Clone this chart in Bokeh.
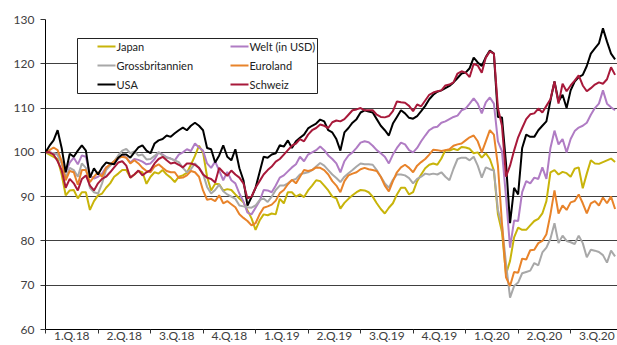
from bokeh.plotting import figure
from bokeh.models import Range1d, FixedTicker, ColumnDataSource
from bokeh.core.properties import value
from bokeh.embed import file_html
from bokeh.resources import INLINE

quarter_labels = ["1.Q.18", "2.Q.18", "3.Q.18", "4.Q.18", "1.Q.19", "2.Q.19",
                  "3.Q.19", "4.Q.19", "1.Q.20", "2.Q.20", "3.Q.20"]
y_ticks = [60, 70, 80, 90, 100, 110, 120, 130]

usa = [100, 101.5, 102.7, 105, 101, 95.5, 99.7, 99, 100.4, 101.6,
       100.4, 94.3, 96.4, 95, 96.6, 97.7, 97.5, 97.3, 98.8, 99.5,
       99.5, 98.8, 100, 101.1, 101.6, 100.4, 99.8, 102, 102.7, 103,
       103.8, 103.5, 104.3, 105, 105.6, 105, 106, 106.7, 106, 105,
       101, 100.7, 97.7, 99.3, 101.6, 99, 98.2, 100.7, 96.4, 93.7,
       88, 89.9, 92, 95.5, 99, 98.8, 99.5, 99.8, 101.6, 101.3,
       102.7, 101, 102.5, 103.3, 104, 105.4, 106, 106.5, 107.4, 107,
       105, 104.5, 103, 100.4, 104.5, 105.5, 106.7, 107.5, 109, 109.5,
       109.2, 109, 107.5, 106, 105, 103.8, 106.5, 108, 109.5, 108.8,
       107.8, 107.6, 108.2, 109.3, 110.5, 112, 113, 113.7, 114, 114.5,
       115, 115.8, 116.8, 117.8, 118, 119, 121.4, 120.3, 119.5, 121.5,
       123, 122.3, 108, 107.9, 97.5, 84, 92, 90.5, 101, 104,
       103.5, 103.5, 105, 106, 107, 111.7, 116, 111.5, 113, 110,
       114, 116, 117, 117.5, 119.5, 122.3, 123.5, 124.6, 128, 125,
       122.3, 121]

schweiz = [100, 100, 99.5, 98, 96, 92, 94, 93, 91.4, 94,
           94.8, 92.5, 91.4, 93, 94, 94.5, 95.5, 96.6, 97.7, 98,
           97, 94.3, 95, 95.9, 94.8, 95.5, 96, 97.5, 98.5, 99,
           98.2, 97.5, 97.7, 97.2, 96.6, 97.5, 97.5, 97.2, 96.5, 95,
           94.3, 94, 93.2, 96.5, 95.5, 94.7, 95.9, 95, 94.3, 93,
           89.6, 90, 92, 93.5, 95, 96, 96.8, 97.9, 98.5, 99.5,
           100.5, 101.5, 102, 103, 102.5, 104, 105, 105.5, 106.3, 106,
           105.5, 106.8, 107.2, 107, 107.5, 108.5, 109.5, 109.7, 110, 109.5,
           109.5, 109.5, 108.5, 108, 107.9, 108.2, 109.3, 111.5, 111.3, 111.2,
           110.5, 109.3, 110.8, 110.4, 111.7, 113, 113.5, 113.8, 114, 115.1,
           115.3, 115.8, 117.8, 118.3, 118, 117, 120, 119.6, 118, 121.4,
           122.8, 122.3, 110, 106, 94.5, 97, 100.4, 103.4, 105.5, 107.5,
           108.6, 108.8, 109.9, 109, 110.5, 112, 116, 111, 115.5, 113.8,
           115.1, 116.2, 117.4, 115.1, 113.8, 114.5, 115.3, 115.8, 115.5, 116.5,
           119.2, 117.5]

welt = [100, 100, 99.8, 99.5, 97.7, 95.5, 97.7, 98.8, 97.3, 99.3,
        99, 94.8, 94.1, 94.5, 95.2, 96.6, 97, 98, 98.5, 99.3,
        98.8, 97.7, 98.5, 98.3, 97.9, 97.3, 97.5, 98.5, 100, 99.5,
        98.9, 98.6, 98.2, 99.5, 100, 100.7, 100.3, 102, 101.1, 100.4,
        97.5, 96.5, 97.9, 95.9, 93.7, 95.6, 93.7, 93, 90.7, 88.9,
        86.4, 86, 87.5, 89, 91.5, 91.4, 91, 92.5, 94.3, 94.8,
        95.7, 96.6, 97.3, 99, 98, 99.5, 100, 100.5, 101.3, 100.5,
        99.3, 98.5, 97.5, 95.5, 98, 99.3, 100, 101, 102.2, 102.5,
        102.3, 101.5, 100.5, 99.8, 99, 97.5, 99.5, 101, 102.2, 101.8,
        100.5, 100, 101, 102.5, 103.8, 105, 105.6, 105.8, 106.7, 107,
        107.5, 108, 108.3, 109.5, 109.9, 111, 112.2, 111, 108.8, 111.3,
        112.4, 111, 102.5, 100.2, 90, 78.5, 84.6, 84.5, 91, 93.5,
        93, 94.3, 94, 96.6, 94, 101, 104.9, 101.8, 103, 100,
        103, 104.8, 105.6, 106, 106.7, 108.5, 110, 111, 114, 111,
        110.2, 109.5]

grossbritannien = [100, 100, 99.8, 99.5, 97.5, 94.3, 96.5, 96, 94.5, 97.5,
                   96.5, 92, 91, 90.7, 93, 96, 97, 98, 99.3, 100.4,
                   100.8, 99.8, 100.2, 99.3, 99.5, 98.4, 98.5, 99.2, 100, 99.3,
                   98.8, 98.6, 98.2, 97.8, 96.5, 95.5, 96.2, 97.5, 96.5, 95.2,
                   92.2, 90.7, 91.5, 92.7, 91.2, 90.5, 90, 89.5, 88, 87.8,
                   87.6, 87.5, 88, 89.2, 89.6, 88.8, 90, 91.5, 92.5, 92.5,
                   93, 93.7, 94, 95, 95.3, 95.5, 96, 96.8, 97.6, 97,
                   96, 95, 94.2, 93.3, 94.5, 95.3, 96, 96.8, 97.5, 97.3,
                   97.3, 97.2, 96, 94.5, 93, 92, 93.8, 95, 95, 94.8,
                   94.2, 93, 94, 94.5, 95.2, 95, 95.2, 95, 95.5, 94.5,
                   93.7, 96.3, 98.5, 98.8, 98.8, 98.2, 99, 97, 94.3, 96.6,
                   96.2, 95.9, 87, 83.5, 74.9, 67.2, 69.8, 70.6, 72.7, 73,
                   73.3, 75, 74.5, 77.4, 78.5, 80.5, 84, 79.5, 81.2, 80,
                   79.7, 79.3, 81.2, 79.5, 76.3, 78, 77.8, 77.5, 76.8, 75.1,
                   77.8, 76.5]

euroland = [100, 100.5, 101.1, 100.5, 98, 93.7, 95.8, 95.5, 92.7, 96,
            96, 93.3, 94.5, 95.5, 94.5, 96.5, 97.3, 98, 98.8, 99,
            98.8, 97.5, 98.2, 97.5, 96.5, 95.8, 95.5, 96.8, 97.3, 96.5,
            95.8, 95.5, 95.5, 94.2, 94.3, 94.8, 95.8, 95.5, 94.5, 91.4,
            89.3, 89.5, 89, 90.3, 88.5, 89, 88.3, 87.6, 86, 85.2,
            84.5, 83.5, 84, 86, 87.5, 87.8, 88.2, 89.1, 90.8, 91.5,
            92.8, 93.8, 93, 94.5, 96, 95.8, 96, 96.6, 96.5, 96,
            95, 93.5, 92.5, 91, 93.5, 94.8, 95.2, 95.5, 96.2, 96.5,
            96.2, 96, 95.8, 94.5, 92.5, 91.2, 93.5, 95.5, 96.6, 97.2,
            96.5, 95.5, 97, 97.8, 98.5, 99.5, 100.6, 100.5, 100.3, 100.5,
            100.7, 101.5, 101.8, 102, 102.7, 103.4, 103.8, 102.5, 100, 102.5,
            105, 104, 97, 84, 71.8, 69.8, 73, 72.8, 76, 75.8,
            77.9, 78, 79.5, 80, 81.5, 86, 91.4, 86.2, 88, 87,
            88.7, 89, 90.5, 88.5, 86.2, 88.5, 89, 88, 89.8, 88.5,
            90, 87.2]

japan = [100, 99.5, 99, 98.5, 95, 90.3, 91.4, 91.5, 89.6, 91,
         91, 87, 89, 90.3, 90.7, 92, 93, 94.5, 95.2, 96,
         96, 94.3, 95, 95.8, 95.5, 92.9, 94.5, 95.5, 95.2, 96,
         95, 94.3, 93.3, 94.5, 94.8, 95.4, 97.2, 99.2, 101.5, 100,
         94.5, 91.4, 92.9, 92.8, 91.4, 91.7, 91.5, 90.5, 89.6, 88.7,
         86.9, 85.1, 82.5, 84.6, 86, 85.8, 86.2, 86, 89.5, 88.5,
         91, 91, 90, 90.5, 89.9, 91.4, 92.5, 93.7, 93.5, 92.5,
         91.4, 90, 89.6, 87.3, 88.6, 89.5, 90.3, 91, 91.5, 91.4,
         91, 90, 88.5, 87.2, 86.2, 87.5, 88.5, 90.5, 92, 92,
         90.5, 91, 93.5, 95, 96.4, 97.2, 97.5, 97.2, 98.6, 100.5,
         100.4, 100.8, 100.5, 101.2, 101.1, 100.8, 99.8, 100, 98.8, 99.8,
         98.5, 95.9, 86, 82, 72.5, 75.5, 80.8, 83, 82.5, 82.5,
         83.5, 84.5, 85, 86.2, 89, 95.5, 96, 95, 95.6, 95.3,
         94.5, 96.3, 96.6, 91.9, 95.2, 98.2, 97.5, 97.4, 97.8, 98.2,
         98.6, 97.8]

weeks = list(range(len(usa)))

series = [
    ("Japan", japan, "#C8B40A"),
    ("Welt (in USD)", welt, "#B07CC4"),
    ("Grossbritannien", grossbritannien, "#A8A8A8"),
    ("Euroland", euroland, "#E8832A"),
    ("USA", usa, "#000000"),
    ("Schweiz", schweiz, "#A8193A"),
]

W, H = 617, 345
L, T, R, B = 45, 19, 0, 16
X_MAX = 141.6
Y0, Y1 = 60, 130


def px2x(px):
    return (px - L) * X_MAX / (W - L - R)


def py2y(py):
    return Y1 - (py - T) * (Y1 - Y0) / (H - T - B)


p = figure(width=W, height=H, x_range=Range1d(0, X_MAX), y_range=Range1d(Y0, Y1),
           output_backend="svg", toolbar_location=None,
           min_border_left=L, min_border_top=T, min_border_right=R, min_border_bottom=B)
p.outline_line_color = None
p.background_fill_color = "white"
p.border_fill_color = "white"

# y axis
yt = FixedTicker(ticks=y_ticks, minor_ticks=[])
p.yaxis.ticker = yt
p.yaxis.major_tick_out = 5
p.yaxis.major_tick_in = 0
p.yaxis.minor_tick_out = 0
p.yaxis.minor_tick_in = 0
p.yaxis.axis_line_color = "black"
p.yaxis.major_tick_line_color = "#333333"
p.yaxis.major_label_text_font = "Lato"
p.yaxis.major_label_text_font_size = "12px"
p.yaxis.major_label_text_color = "#404040"
p.yaxis.major_label_standoff = 6

# x axis: labels at quarter centres, minor ticks at quarter boundaries
centers = [13 * i + 6.5 for i in range(len(quarter_labels))]
bounds = [13 * i for i in range(len(quarter_labels) + 1)]
p.xaxis.ticker = FixedTicker(ticks=centers, minor_ticks=bounds)
p.xaxis.major_label_overrides = {c: lab for c, lab in zip(centers, quarter_labels)}
p.xaxis.major_tick_out = 0
p.xaxis.major_tick_in = 0
p.xaxis.minor_tick_out = 4
p.xaxis.minor_tick_in = 0
p.xaxis.minor_tick_line_color = "#333333"
p.xaxis.axis_line_color = "black"
p.xaxis.major_label_text_font = "Lato"
p.xaxis.major_label_text_font_size = "12px"
p.xaxis.major_label_text_color = "#404040"
p.xaxis.major_label_standoff = -6

p.xgrid.grid_line_color = None
p.ygrid.ticker = yt
p.ygrid.grid_line_color = "#404040"
p.ygrid.grid_line_width = 1

for name, vals, color in series:
    src = ColumnDataSource(dict(x=weeks, y=vals))
    p.line("x", "y", source=src, line_color=color, line_width=2)

# legend box
p.quad(left=[px2x(77)], right=[px2x(317)], top=[py2y(38)], bottom=[py2y(93)],
       fill_color="white", line_color="#222222", line_width=1)

order = [("Japan", 0, 0), ("Grossbritannien", 0, 1), ("USA", 0, 2),
         ("Welt (in USD)", 1, 0), ("Euroland", 1, 1), ("Schweiz", 1, 2)]
col_x = [97, 230]
row_y = [46, 65, 84]
lookup = {n: c for n, v, c in series}
for name, ci, ri in order:
    x0 = col_x[ci]
    yy = py2y(row_y[ri])
    p.segment(x0=[px2x(x0)], y0=[yy], x1=[px2x(x0 + 18)], y1=[yy],
              line_color=lookup[name], line_width=2)
    p.text(x=[px2x(x0 + 19)], y=[yy], text=[name], text_baseline="middle",
           text_align="left", text_font=value("Lato"), text_font_size="11px",
           text_color="#222222")

open("out.html", "w").write(file_html(p, INLINE))
